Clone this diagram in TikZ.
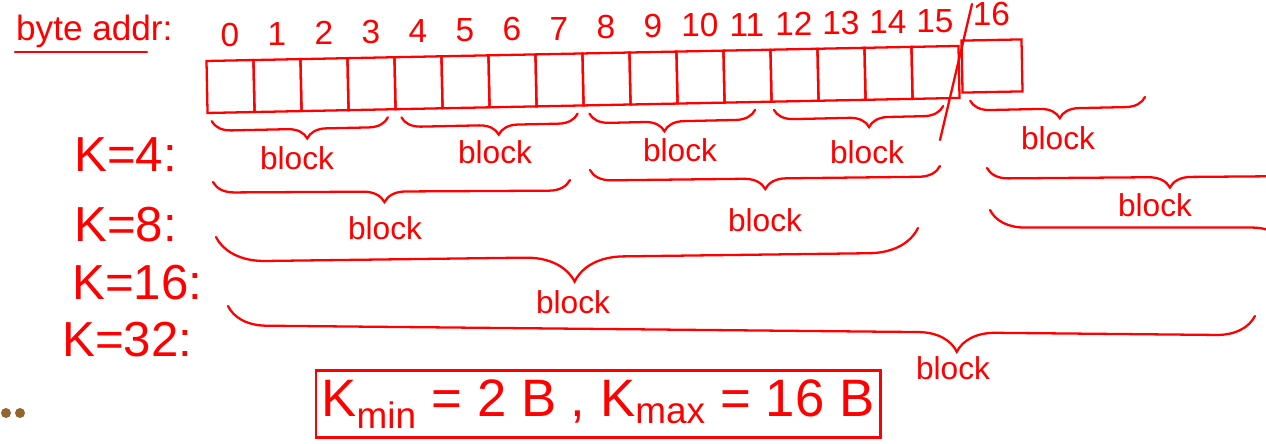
\documentclass[tikz,border=0pt]{standalone}
\usepackage{fontspec}
\setmainfont{Liberation Sans}
\usetikzlibrary{positioning,decorations.pathreplacing}
\definecolor{ink}{RGB}{255,0,0}
\definecolor{dotbrown}{RGB}{150,100,45}

\begin{document}
\begin{tikzpicture}[
    x=0.02cm, y=-0.02cm,
    every node/.style={text=ink},
    stroke/.style={draw=ink, line width=1.3pt, line cap=round},
    cell/.style={draw=ink, line width=1.3pt, minimum width=0.94cm, minimum height=1.04cm, inner sep=0pt, rotate=1.15},
    num/.style={font=\fontsize{19}{19}\selectfont, inner sep=1pt},
    rowlabel/.style={font=\fontsize{28}{28}\selectfont, anchor=west},
    blocklabel/.style={font=\fontsize{18}{18}\selectfont, inner sep=1pt},
    blockbrace/.style={stroke, decorate, decoration={brace, mirror, amplitude=11pt, aspect=#1}},
    blockbrace/.default=0.5
]
\useasboundingbox (0,0) rectangle (1266,443);
\clip (0,0) rectangle (1266,443);

\node[anchor=base west, font=\fontsize{20}{20}\selectfont] (addr) at (10,40) {byte addr:};
\coordinate (ulL) at (15,52);
\coordinate (ulR) at (147,52);
\draw[stroke] (ulL) -- (ulR);

\foreach \i in {0,...,15}
    \node[cell] (c\i) at ({230.5+47*\i},{86.5-0.94*\i}) {};
\node[cell, minimum width=1.2cm] (c16) at (992,66) {};
\foreach \i in {0,...,16}
    \node[num, above=6pt of c\i] (n\i) {\i};

\coordinate (cutT) at (972,4);
\coordinate (cutB) at (940,140);
\draw[stroke] (cutT) -- (cutB);

\node[rowlabel] (k4) at (68,155) {K=4:};
\node[rowlabel] (k8) at (68,225) {K=8:};
\node[rowlabel] (k16) at (66,283) {K=16:};
\node[rowlabel] (k32) at (56,340) {K=32:};

\coordinate (e4eR) at (1145,97);
\draw[blockbrace=0.54] ([shift={(3pt,-4pt)}]c0.south west) -- ([shift={(-5pt,-4pt)}]c3.south east);
\draw[blockbrace=0.55] ([shift={(4pt,-4pt)}]c4.south west) -- ([shift={(-4pt,-4pt)}]c7.south east);
\draw[blockbrace=0.45] ([shift={(4pt,-4pt)}]c8.south west) -- ([shift={(-10pt,-4pt)}]c11.south east);
\draw[blockbrace=0.56] ([shift={(2pt,-4pt)}]c12.south west) -- ([shift={(-10pt,-4pt)}]c15.south east);
\draw[blockbrace=0.51] ([shift={(5pt,-4pt)}]c16.south west) -- (e4eR);
\node[blocklabel] (b4a) at (297,158) {block};
\node[blocklabel] (b4b) at (495,152) {block};
\node[blocklabel] (b4c) at (680,150) {block};
\node[blocklabel] (b4d) at (867,152) {block};
\node[blocklabel] (b4e) at (1058,138) {block};

\coordinate (e8aL) at (213,182);
\coordinate (e8aR) at (570,180);
\coordinate (e8bL) at (590,170);
\coordinate (e8bR) at (940,166);
\coordinate (e8cL) at (987,168);
\coordinate (e8cR) at (1360,165);
\draw[blockbrace=0.48, decoration={amplitude=12pt}] (e8aL) -- (e8aR);
\draw[blockbrace=0.5, decoration={amplitude=12pt}] (e8bL) -- (e8bR);
\draw[blockbrace=0.49, decoration={amplitude=12pt}] (e8cL) -- (e8cR);
\node[blocklabel] (b8a) at (385,228) {block};
\node[blocklabel] (b8b) at (765,220) {block};
\node[blocklabel] (b8c) at (1155,205) {block};

\coordinate (e16aL) at (216,237);
\coordinate (e16aR) at (918,228);
\coordinate (e16bL) at (990,210);
\coordinate (e16bR) at (1530,210);
\draw[blockbrace=0.51, decoration={amplitude=28pt}] (e16aL) -- (e16aR);
\draw[blockbrace=0.55, decoration={amplitude=20pt}] (e16bL) -- (e16bR);
\node[blocklabel] (b16a) at (573,302) {block};

\coordinate (e32L) at (228,306);
\coordinate (e32R) at (1255,316);
\draw[blockbrace=0.71, decoration={amplitude=22pt}] (e32L) -- (e32R);
\node[blocklabel] (b32a) at (953,368) {block};

\node[draw=ink, line width=1.4pt, minimum width=11.14cm, minimum height=1.34cm, font=\fontsize{30}{30}\selectfont] (kbox) at (598,404) {K\textsubscript{min} = 2 B , K\textsubscript{max} = 16 B};

\fill[dotbrown] (6,413) circle[radius=0.1cm];
\fill[dotbrown] (20,413) circle[radius=0.1cm];
\end{tikzpicture}
\end{document}
